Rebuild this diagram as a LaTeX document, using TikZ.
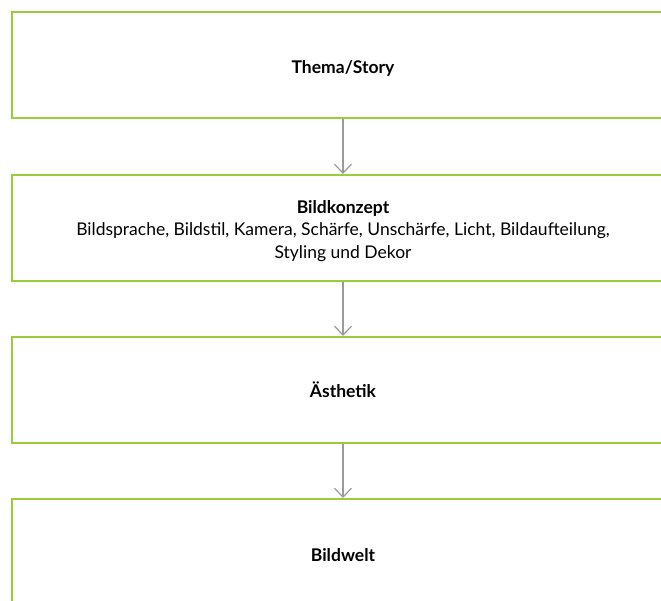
\documentclass[tikz,border=0pt]{standalone}
\usepackage{fontspec}
\setmainfont{Lato}
\usetikzlibrary{arrows.meta}
\definecolor{boxgreen}{HTML}{9ACD3A}
\definecolor{arrowgray}{HTML}{9A9A9A}
\newcommand{\lowertext}[1]{\raisebox{-3pt}[\height][\depth]{#1}}
\tikzset{
  stagebox/.style={draw=boxgreen, line width=2pt, minimum width=662pt, minimum height=106pt, inner sep=0pt, align=center, font=\fontsize{17.5}{22.5}\selectfont},
  flowarrow/.style={draw=arrowgray, line width=1.6pt, -{Straight Barb[length=9pt,width=17pt,line width=1.2pt]}}
}
\begin{document}
\begin{tikzpicture}[x=1pt,y=-1pt]
\useasboundingbox (0,0) rectangle (661,600);
\clip (0,0) rectangle (661,600);
\node[stagebox] (b1) at (343,65) {\lowertext{\textbf{Thema/Story}}};
\node[stagebox] (b2) at (343,228) {\lowertext{\begin{tabular}{@{}c@{}}\textbf{Bildkonzept}\\Bildsprache, Bildstil, Kamera, Schärfe, Unschärfe, Licht, Bildaufteilung,\\Styling und Dekor\end{tabular}}};
\node[stagebox] (b3) at (343,390) {\textbf{Ästhetik}};
\node[stagebox] (b4) at (343,552) {\lowertext{\textbf{Bildwelt}}};
\draw[flowarrow] (b1.south) -- (b2.north);
\draw[flowarrow] (b2.south) -- (b3.north);
\draw[flowarrow] (b3.south) -- (b4.north);
\end{tikzpicture}
\end{document}
